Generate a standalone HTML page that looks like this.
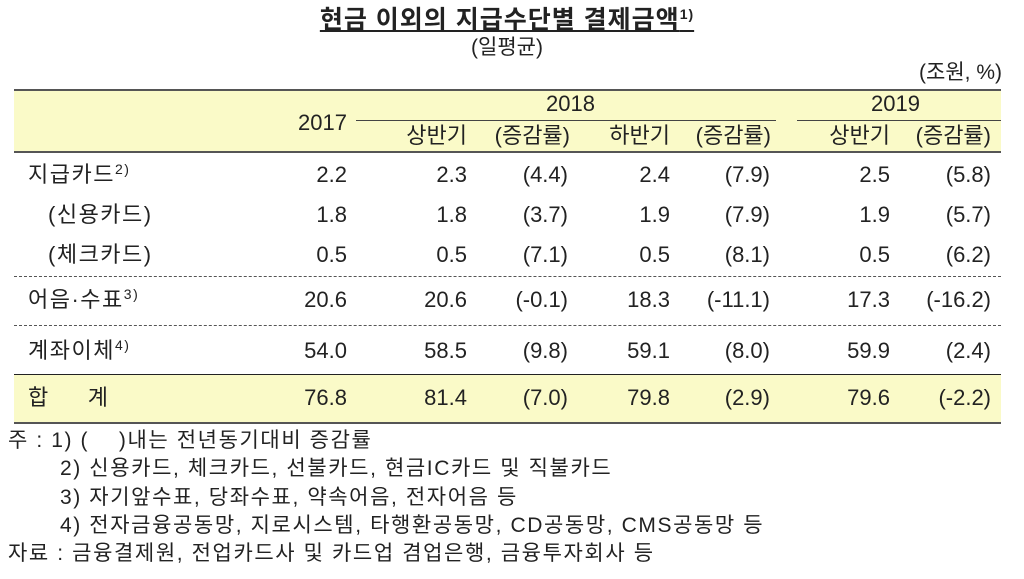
<!DOCTYPE html>
<html><head><meta charset="utf-8"><style>
body{margin:0;width:1024px;height:579px;background:#fff;position:relative;overflow:hidden;font-family:"Liberation Sans","Noto Sans CJK KR","NanumGothic",sans-serif;color:#222;}
.t{position:absolute;white-space:nowrap;font-size:22px;line-height:26px;}
.r{text-align:right;}
.bg{position:absolute;left:14px;width:987px;background:#fafac8;}
.ln{position:absolute;height:0;}
sup{font-size:14px;vertical-align:top;position:relative;top:-6px;}
.note{font-size:21px;letter-spacing:1.6px;}
</style></head><body>
<div class="t" style="left:0;width:1014px;text-align:center;top:7px;font-size:25px;font-weight:bold;text-decoration:underline;letter-spacing:1px;">현금 이외의 지급수단별 결제금액<sup>1)</sup></div>
<div class="t" style="left:0;width:1014px;text-align:center;top:35px;font-size:21px;">(일평균)</div>
<div class="t" style="right:22px;top:60px;font-size:21px;">(조원, %)</div>

<div class="bg" style="top:90px;height:62px;"></div>
<div class="bg" style="top:374px;height:49px;"></div>
<div class="ln" style="left:14px;width:987px;top:89px;border-top:2px solid #555;"></div>
<div class="ln" style="left:14px;width:987px;top:151px;border-top:2px solid #555;"></div>
<div class="ln" style="left:356px;width:420px;top:120px;border-top:1px solid #444;"></div>
<div class="ln" style="left:797px;width:204px;top:120px;border-top:1px solid #444;"></div>
<div class="ln" style="left:14px;width:987px;top:276px;border-top:1px dashed #555;"></div>
<div class="ln" style="left:14px;width:987px;top:325px;border-top:1px dashed #555;"></div>
<div class="ln" style="left:14px;width:987px;top:374px;border-top:1px solid #222;"></div>
<div class="ln" style="left:14px;width:987px;top:422px;border-top:2px solid #555;"></div>

<div class="t r" style="right:677px;top:110px;">2017</div>
<div class="t" style="left:546px;top:91px;">2018</div>
<div class="t" style="left:871px;top:91px;">2019</div>
<div class="t r" style="right:557px;top:123px;">상반기</div>
<div class="t r" style="right:454px;top:123px;">(증감률)</div>
<div class="t r" style="right:354px;top:123px;">하반기</div>
<div class="t r" style="right:253px;top:123px;">(증감률)</div>
<div class="t r" style="right:134px;top:123px;">상반기</div>
<div class="t r" style="right:33px;top:123px;">(증감률)</div>

<div id="rows"></div>

<div class="t note" style="left:8px;top:428px;">주 : 1) (&nbsp;&nbsp;&nbsp;&nbsp;)내는 전년동기대비 증감률</div>
<div class="t note" style="left:60px;top:456px;">2) 신용카드, 체크카드, 선불카드, 현금IC카드 및 직불카드</div>
<div class="t note" style="left:60px;top:485px;">3) 자기앞수표, 당좌수표, 약속어음, 전자어음 등</div>
<div class="t note" style="left:60px;top:513px;">4) 전자금융공동망, 지로시스템, 타행환공동망, CD공동망, CMS공동망 등</div>
<div class="t note" style="left:8px;top:541px;">자료 : 금융결제원, 전업카드사 및 카드업 겸업은행, 금융투자회사 등</div>

<script>
const rowLabels=["지급카드<sup>2)</sup>","(신용카드)","(체크카드)","어음·수표<sup>3)</sup>","계좌이체<sup>4)</sup>","합&nbsp;&nbsp;&nbsp;&nbsp;&nbsp;계"];
const v2017=["2.2","1.8","0.5","20.6","54.0","76.8"];
const v2018h1=["2.3","1.8","0.5","20.6","58.5","81.4"];
const c2018h1=["(4.4)","(3.7)","(7.1)","(-0.1)","(9.8)","(7.0)"];
const v2018h2=["2.4","1.9","0.5","18.3","59.1","79.8"];
const c2018h2=["(7.9)","(7.9)","(8.1)","(-11.1)","(8.0)","(2.9)"];
const v2019h1=["2.5","1.9","0.5","17.3","59.9","79.6"];
const c2019h1=["(5.8)","(5.7)","(6.2)","(-16.2)","(2.4)","(-2.2)"];
const rowTops=[162,202,242,287,338,385];
const labelLefts=[28,48,48,28,28,28];
const cols=[v2017,v2018h1,c2018h1,v2018h2,c2018h2,v2019h1,c2019h1];
const colRights=[677,557,456,354,254,134,33];
const colNames=['2017','2018-h1','2018-h1-change','2018-h2','2018-h2-change','2019-h1','2019-h1-change'];
const host=document.getElementById('rows');
rowLabels.forEach((lab,i)=>{
  const d=document.createElement('div');
  d.className='t';
  
  
  d.style.left=labelLefts[i]+'px';d.style.top=rowTops[i]+'px';
  d.style.letterSpacing='1.5px';
  d.innerHTML=lab;host.appendChild(d);
  cols.forEach((arr,j)=>{
    const c=document.createElement('div');
    c.className='t r';
    
    
    c.style.right=colRights[j]+'px';c.style.top=rowTops[i]+'px';
    c.textContent=arr[i];host.appendChild(c);
  });
});
</script>
</body></html>
